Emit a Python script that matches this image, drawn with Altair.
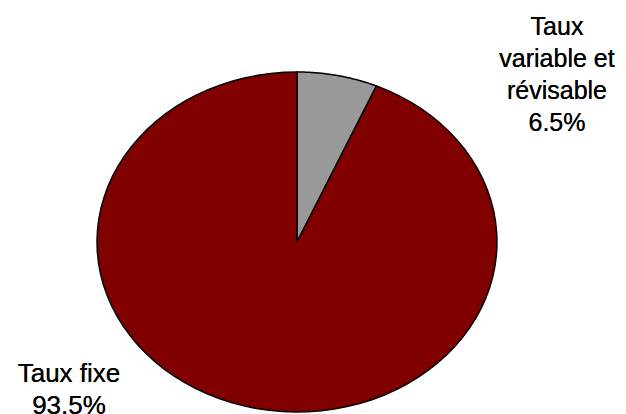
import altair as alt
import pandas as pd

# Data
categories = ["Taux variable et révisable", "Taux fixe"]
values = [6.5, 93.5]
label_lines = [["Taux", "variable et", "révisable"], ["Taux fixe"]]
colors = ["#999999", "#800000"]

df = pd.DataFrame({
    "category": categories,
    "value": values,
    "slice": list(range(len(categories))),
})

N = 90

base = alt.Chart(df).transform_joinaggregate(
    total="sum(value)"
).transform_window(
    cum="sum(value)", sort=[alt.SortField("slice")], frame=[None, 0]
).transform_calculate(
    t0="(datum.cum - datum.value) / datum.total",
    t1="datum.cum / datum.total",
    ks=f"sequence(-1, {N + 2})",
).transform_flatten(
    ["ks"], as_=["k"]
).transform_calculate(
    r=f"(datum.k < 0 || datum.k > {N}) ? 0 : 1",
    t=f"datum.t0 + (datum.t1 - datum.t0) * clamp(datum.k, 0, {N}) / {N}",
).transform_calculate(
    px="datum.r * sin(2 * PI * datum.t)",
    py="datum.r * cos(2 * PI * datum.t)",
)

xscale = alt.Scale(domain=[-1, 1])
yscale = alt.Scale(domain=[-1, 1])

pie = base.mark_line(stroke="black", strokeWidth=1.5, interpolate="linear").encode(
    x=alt.X("px:Q", scale=xscale, axis=None),
    y=alt.Y("py:Q", scale=yscale, axis=None),
    order=alt.Order("k:Q"),
    detail="category:N",
    fill=alt.Fill("category:N", scale=alt.Scale(domain=categories, range=colors), legend=None),
)

label_texts = [
    "\n".join(label_lines[i] + [f"{values[i]}%"]) for i in range(len(categories))
]

text_style = dict(font="Liberation Sans", lineHeight=32, color="black",
                  align="center", baseline="alphabetic", lineBreak="\n")

top_label = alt.Chart(df).mark_text(fontSize=25, **text_style).encode(
    x=alt.datum(1.30, scale=xscale),
    y=alt.datum(1.218, scale=yscale),
    text=alt.value(label_texts[0]),
)
bottom_label = alt.Chart(df).mark_text(fontSize=26, **text_style).encode(
    x=alt.datum(-1.14, scale=xscale),
    y=alt.datum(-0.824, scale=yscale),
    text=alt.value(label_texts[1]),
)

chart = alt.layer(pie, top_label, bottom_label).properties(
    width=400,
    height=340,
    autosize=alt.AutoSizeParams(type="none"),
    padding={"left": 89, "top": 64, "right": 121, "bottom": 2},
    background="white",
).configure_view(stroke=None)

chart.save("out.html", embed_options={"renderer": "svg", "actions": False})
